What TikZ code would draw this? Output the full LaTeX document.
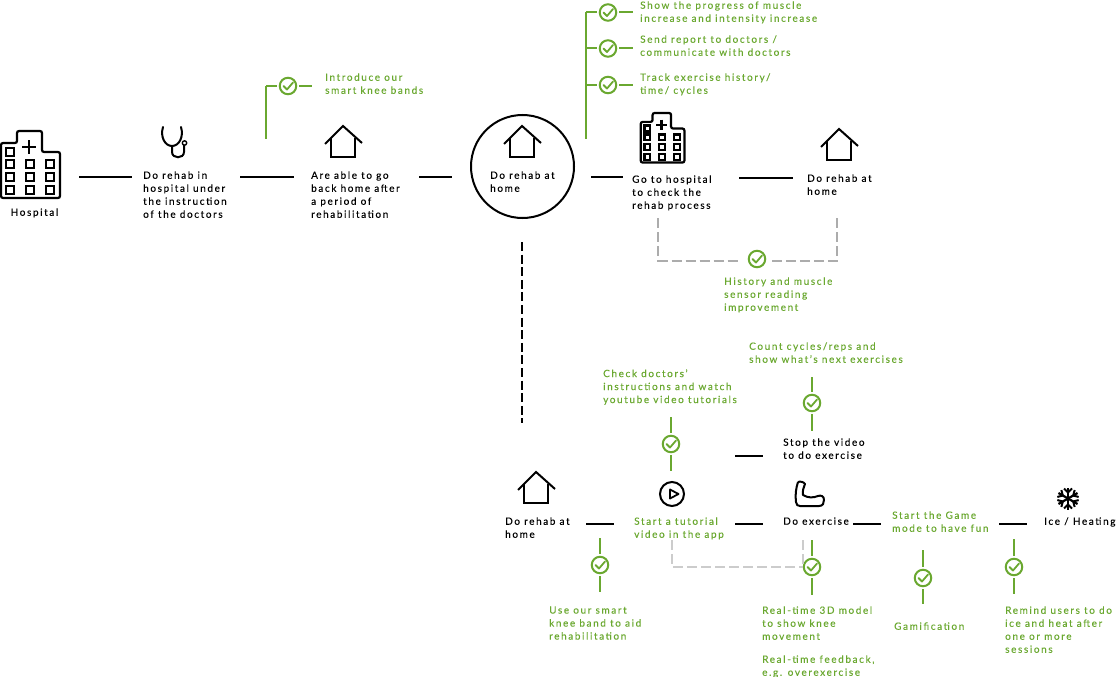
\documentclass[tikz,border=0pt]{standalone}
\usepackage{fontspec}
\setmainfont[LetterSpace=16,FakeBold=0.2]{Lato}
\definecolor{kneegreen}{RGB}{106,168,48}
\tikzset{
  txt/.style={anchor=north west,inner sep=0pt,yshift=-.2pt,align=left,font=\fontsize{10}{13}\selectfont,text=black},
  gtxt/.style={txt,text=kneegreen},
  link/.style={line width=2pt},
  glink/.style={line width=2pt,draw=kneegreen},
  glinkb/.style={glink,shorten <=2pt},
  gdash/.style={line width=2pt,draw=gray!65,dash pattern=on 10pt off 4pt},
  check/.style={circle,draw=kneegreen,line width=2pt,minimum size=16.5pt,inner sep=0pt,
    path picture={\draw[kneegreen,line width=1.8pt,line cap=round,line join=round]
      ([shift={(-4.5pt,0pt)}]path picture bounding box.center)--++(3.5pt,-3.5pt)--++(6pt,7pt);}},
  house/.pic={\draw[line width=2pt] (-18,18)--(0,0)--(19,17);
    \draw[line width=2pt] (-12,12)--(-12,31)--(12,31)--(12,12);},
  hospital/.pic={
    \draw[line width=2.2pt,rounded corners=2pt] (1,67)--(1,12)--(17,12)--(17,0)--(42,0)--(42,21)--(60,21)--(60,67)--cycle;
    \draw[line width=2.2pt] (29,9)--(29,23) (22,16)--(36,16);
    \draw[line width=2.2pt] (6,17) rectangle +(8,8);
    \foreach \r in {29,42,55}
      \foreach \c in {6,26,46}
        \draw[line width=2.2pt] (\c,\r) rectangle +(8,8);}
}
\begin{document}
\begin{tikzpicture}[x=1pt,y=-1pt]
\useasboundingbox (0,0) rectangle (1119,677);
% icons
\pic at (0,131) {hospital};
\pic[scale=.74] at (640,113) {hospital};
\foreach \x/\y in {343/126,522/126,839/129,536/472}
  \pic at (\x,\y) {house};
\draw[line width=2pt,line cap=round] (163,127) .. controls (160,137) and (165,146) .. (172,146) .. controls (179,146) and (184,137) .. (181,127);
\draw[line width=2pt] (172,146)--(172,152) .. controls (172,159) and (184,159) .. (184,152)--(184,145);
\draw[line width=1.4pt] (184.5,143) circle (2.2);
\draw[line width=2pt] (672,494) circle (12);
\draw[line width=1.8pt,line join=round] (670,489.5)--(678.5,494)--(670,498.5)--cycle;
\draw[line width=2pt,line join=round] (798,482) .. controls (796,488) and (795,495) .. (796,502) .. controls (796,505) and (798,506) .. (800,506)--(819,506) .. controls (823,506) and (824,503) .. (824,500) .. controls (824,496) and (821,495) .. (818,496) .. controls (813,498) and (808,498) .. (803,495) .. controls (802,491) and (804,487) .. (805,484) .. controls (804,482) and (800,481) .. (798,482);
\foreach \a in {0,60,...,300}{
  \begin{scope}[shift={(1068,498.5)},rotate=\a]
  \draw[line width=2.2pt] (0,0)--(0,-11);
  \draw[line width=2pt] (-4,-10)--(0,-6)--(4,-10);
  \end{scope}
}
% main circle
\node[circle,draw,line width=2pt,minimum size=103pt,inner sep=0pt] (homeRing) at (522.5,166.5) {};
% black labels
\node[txt] (hospitalLbl) at (10.5,208) {Hospital};
\node[txt] (rehabLbl) at (143,171) {Do rehab in\\hospital under\\the instruction\\of the doctors};
\node[txt] (backLbl) at (311,171) {Are able to go\\back home after\\a period of\\rehabilitation};
\node[txt] (homeLbl) at (490,171) {Do rehab at\\home};
\node[txt] (goLbl) at (632,175) {Go to hospital\\to check the\\rehab process};
\node[txt] (homeTwoLbl) at (807,174) {Do rehab at\\home};
\node[txt] (stopLbl) at (783,438) {Stop the video\\to do exercise};
\node[txt] (homeThreeLbl) at (505,517) {Do rehab at\\home};
\node[txt] (exerciseLbl) at (783,517) {Do exercise};
\node[txt] (iceLbl) at (1044,517) {Ice / Heating};
% green labels
\node[gtxt] (introLbl) at (325,73) {Introduce our\\smart knee bands};
\node[gtxt] (showLbl) at (640,1) {Show the progress of muscle\\increase and intensity increase};
\node[gtxt] (sendLbl) at (640,35) {Send report to doctors /\\communicate with doctors};
\node[gtxt] (trackLbl) at (640,73) {Track exercise history/\\time/ cycles};
\node[gtxt] (historyLbl) at (724,277) {History and muscle\\sensor reading\\improvement};
\node[gtxt] (countLbl) at (749,342) {Count cycles/reps and\\show what's next exercises};
\node[gtxt] (checkLbl) at (603,369) {Check doctors'\\instructions and watch\\youtube video tutorials};
\node[gtxt] (startLbl) at (634,517) {Start a tutorial\\video in the app};
\node[gtxt] (gameLbl) at (892,511) {Start the Game\\mode to have fun};
\node[gtxt] (bandLbl) at (549,606) {Use our smart\\knee band to aid\\rehabilitation};
\node[gtxt] (modelLbl) at (762,606) {Real-time 3D model\\to show knee\\movement};
\node[gtxt] (feedbackLbl) at (762,655) {Real-time feedback,\\e.g. overexercise};
\node[gtxt] (gamificationLbl) at (894,622) {Gamification};
\node[gtxt] (remindLbl) at (1005,606) {Remind users to do\\ice and heat after\\one or more\\sessions};
% black connectors
\foreach \n/\xa/\xb/\y in {a/79/132/177,b/240/294/177,c/419/452/177,d/591/623/177,e/739/793/178,f/735/763/456,g/586/614/524,h/735/763/524,i/853/881/524,j/999/1027/524}{
  \coordinate (\n1) at (\xa,\y);
  \coordinate (\n2) at (\xb,\y);
  \draw[link] (\n1)--(\n2);
}
\coordinate (ringFoot) at (522,242);
\coordinate (homeTop) at (522,423);
\draw[link,dash pattern=on 9pt off 3.6pt] (ringFoot)--(homeTop);
% checks with stubs above and below
\foreach \n/\x/\y/\ya/\yb in {chkA/812/403/377/431,chkB/671/444/417/471,chkC/600/565/538/592,chkD/812/567/540/595,chkE/923/578/550/604,chkF/1014/567/539/594}{
  \node[check] (\n) at (\x,\y) {};
  \coordinate (\n t) at (\x,\ya);
  \coordinate (\n b) at (\x,\yb);
  \draw[glinkb] (\n)--(\n t);
  \draw[glinkb] (\n)--(\n b);
}
% checks with stubs left and right
\foreach \n/\x/\y/\xa/\xb in {chkG/288/86/266/312,chkH/608/12.5/586/633,chkI/608/48.5/586/633,chkJ/608/85/586/633}{
  \node[check] (\n) at (\x,\y) {};
  \coordinate (\n l) at (\xa,\y);
  \coordinate (\n r) at (\xb,\y);
  \draw[glinkb] (\n)--(\n r);
  \draw[glinkb] (\n)--(\n l);
}
\coordinate (introFoot) at (266,139);
\draw[glink] (chkGl)--(introFoot);
\coordinate (trackFoot) at (586,139);
\draw[glink] (chkHl)--(trackFoot);
% grey dashed
\node[check] (chkK) at (757,259) {};
\coordinate (goFoot) at (658,218);
\coordinate (goEnd) at (740,260.5);
\coordinate (homeFoot) at (837,218);
\coordinate (homeEnd) at (770,260.5);
\draw[gdash] (goFoot)|-(goEnd);
\draw[gdash] (homeFoot)|-(homeEnd);
\coordinate (startFoot) at (672,540);
\coordinate (doFoot) at (803,540);
\draw[gdash,draw=gray!40] (startFoot)|-(chkD.west);
\draw[gdash,draw=gray!40] (doFoot)--(doFoot|-chkD.west);
\end{tikzpicture}
\end{document}
